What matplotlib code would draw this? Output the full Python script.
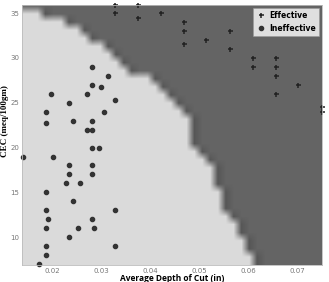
import numpy as np
import matplotlib.pyplot as plt
from matplotlib.colors import LinearSegmentedColormap

# ineffective cuts (dots)
ineff_depth = [0.0282, 0.0314, 0.0282, 0.0300, 0.0198, 0.0271, 0.0235, 0.0329, 0.0188, 0.0306,
               0.0188, 0.0243, 0.0282, 0.0271, 0.0282, 0.0282, 0.0296, 0.0141, 0.0202, 0.0235,
               0.0282, 0.0235, 0.0282, 0.0229, 0.0257, 0.0188, 0.0243, 0.0188, 0.0329, 0.0192,
               0.0282, 0.0188, 0.0253, 0.0286, 0.0235, 0.0188, 0.0329, 0.0188, 0.0174]
ineff_cec = [29, 28, 27, 26.8, 26, 26, 25, 25.3, 24, 24,
             22.7, 23, 23, 22, 22, 20, 20, 19, 19, 18,
             18, 17, 17, 16, 16, 15, 14, 13, 13, 12,
             12, 11, 11, 11, 10, 9, 9, 8, 7]

# effective cuts (plus)
eff_depth = [0.0329, 0.0376, 0.0329, 0.0376, 0.0422, 0.0469, 0.0469, 0.0563, 0.0469, 0.0514,
             0.0563, 0.0610, 0.0657, 0.0610, 0.0657, 0.0657, 0.0702, 0.0657, 0.0751, 0.0751]
eff_cec = [35.9, 35.9, 35, 34.4, 35, 34, 33, 33, 31.5, 32,
           31, 30, 30, 29, 29, 28, 27, 26, 24.5, 24]

# decision boundary (light region to the left)
bound_cec = [6.8, 7.2, 9.7, 11.6, 14.5, 18.3, 20.0, 23.1, 25.6, 27.5, 28.6, 30.5, 32.8, 33.9, 35.1, 35.2, 36.0]
bound_depth = [0.0615, 0.0610, 0.0590, 0.0569, 0.0543, 0.0522, 0.0488, 0.0476, 0.0441, 0.0400,
               0.0359, 0.0318, 0.0263, 0.0220, 0.0169, 0.0140, 0.0138]

xmin, xmax = 0.01388, 0.0751
ymin, ymax = 6.9, 35.9

fig = plt.figure(figsize=(3.29, 2.82), dpi=100)
ax = fig.add_axes([0.0669, 0.0603, 0.9118, 0.922])

# coarse grid classification
gx = np.arange(xmin, xmax + 0.0016, 0.0016)
gy = np.arange(ymin, ymax + 0.9, 0.9)
X, Y = np.meshgrid(gx, gy)
lim = np.interp(Y, bound_cec, bound_depth)
cls = (X > lim).astype(float)
grid = cls * 0.8
# darker band along the edge
edge = np.zeros_like(cls, dtype=bool)
edge[:, 1:] |= (cls[:, 1:] == 1) & (cls[:, :-1] == 0)
edge[:-1, :] |= (cls[:-1, :] == 1) & (cls[1:, :] == 0)
grid[edge] = 0.9

cmap = LinearSegmentedColormap.from_list('bg', [(0, '#dadada'), (0.8, '#646464'), (1.0, '#4a4a4a')])
ax.imshow(grid, origin='lower', extent=[gx[0] - 0.0008, gx[-1] + 0.0008, gy[0] - 0.45, gy[-1] + 0.45],
          aspect='auto', cmap=cmap, vmin=0, vmax=1, interpolation='bilinear')

ax.plot(eff_depth, eff_cec, '+', color='#222222', ms=3.6, mew=1.1, ls='none', label='Effective', clip_on=False)
ax.plot(ineff_depth, ineff_cec, 'o', color='#333333', ms=3.0, ls='none', label='Ineffective', clip_on=False)

ax.set_xlim(xmin, xmax)
ax.set_ylim(ymin, ymax)
ax.set_xticks([0.02, 0.03, 0.04, 0.05, 0.06, 0.07])
ax.set_xticklabels(['0.02', '0.03', '0.04', '0.05', '0.06', '0.07'])
ax.set_yticks([10, 15, 20, 25, 30, 35])
ax.tick_params(length=0, labelsize=5, labelcolor='#777777', pad=2)
for s in ax.spines.values():
    s.set_color('#bbbbbb')
    s.set_linewidth(0.6)

ax.set_ylabel('CEC (meq/100gm)', family='Liberation Serif', fontweight='bold', fontsize=6.5)
ax.yaxis.set_label_coords(-0.045, 0.555)
ax.set_xlabel('Average Depth of Cut (in)', family='Open Sans', fontweight='bold', fontsize=6)
ax.xaxis.set_label_coords(0.5, -0.033)

leg = ax.legend(loc='upper right', prop={'weight': 'bold', 'size': 5.5}, frameon=True,
                fancybox=False, borderpad=0.4, handletextpad=0.5, labelspacing=0.5,
                borderaxespad=0.4, handlelength=1.2)
leg.get_frame().set_edgecolor('#999999')
leg.get_frame().set_linewidth(0.5)

fig.savefig('out.png', dpi=100)
